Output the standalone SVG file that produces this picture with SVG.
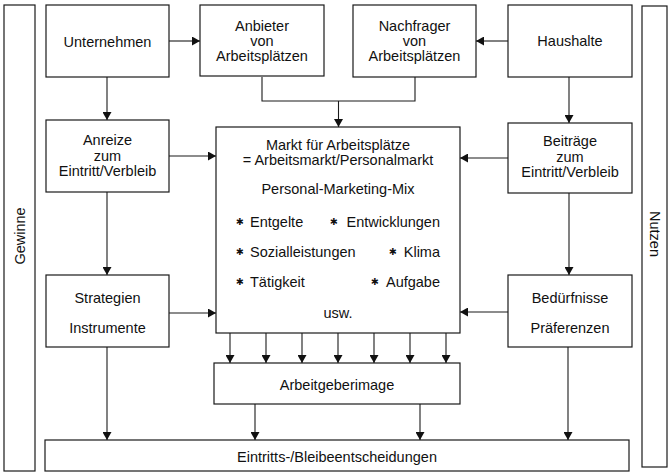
<svg xmlns="http://www.w3.org/2000/svg" width="672" height="472" viewBox="0 0 672 472">
  <style>
    .box { fill: #fff; stroke: #1a1a1a; stroke-width: 1.2; }
    .bar { fill: #fff; stroke: #1a1a1a; stroke-width: 1.2; }
    .line { fill: none; stroke: #1a1a1a; stroke-width: 1.1; }
    .arrow { marker-end: url(#head); }
    text { font-family: "Liberation Sans", Arial, sans-serif; font-size: 14.5px; fill: #111; }
    .c { text-anchor: middle; }
    .e { text-anchor: end; }
    .star { font-family: "DejaVu Sans", sans-serif; font-size: 9.5px; text-anchor: middle; fill: #111; }
  </style>
  <defs>
    <marker id="head" markerWidth="9" markerHeight="9" refX="8" refY="4.5" orient="auto" markerUnits="userSpaceOnUse">
      <path d="M0,0 L8,4.5 L0,9 z" fill="#111"/>
    </marker>
  </defs>

  <rect width="672" height="472" fill="#fff"/>

  <!-- side bars -->
  <g id="gewinne">
    <rect class="bar" x="4" y="5" width="31" height="466"/>
    <text class="c" transform="translate(25 236) rotate(-90)">Gewinne</text>
  </g>
  <g id="nutzen">
    <rect class="bar" x="642" y="6" width="25" height="461"/>
    <text class="c" transform="translate(650 234) rotate(90)">Nutzen</text>
  </g>

  <!-- connectors -->
  <g id="connectors">
    <line class="line arrow" x1="169" y1="41" x2="200" y2="41"/>
    <line class="line arrow" x1="508" y1="41" x2="476" y2="41"/>
    <path class="line" d="M262,77 V101 H415 V77"/>
    <line class="line arrow" x1="338.5" y1="101" x2="338.5" y2="127"/>
    <line class="line arrow" x1="107" y1="77" x2="107" y2="120"/>
    <line class="line arrow" x1="569" y1="77" x2="569" y2="123"/>
    <line class="line arrow" x1="169" y1="156" x2="216" y2="156"/>
    <line class="line arrow" x1="508" y1="158" x2="460" y2="158"/>
    <line class="line arrow" x1="107" y1="192" x2="107" y2="275"/>
    <line class="line arrow" x1="569" y1="193" x2="569" y2="275"/>
    <line class="line arrow" x1="169" y1="313" x2="216" y2="313"/>
    <line class="line arrow" x1="508" y1="312" x2="460" y2="312"/>
    <line class="line arrow" x1="230" y1="333" x2="230" y2="363"/>
    <line class="line arrow" x1="266" y1="333" x2="266" y2="363"/>
    <line class="line arrow" x1="302" y1="333" x2="302" y2="363"/>
    <line class="line arrow" x1="338" y1="333" x2="338" y2="363"/>
    <line class="line arrow" x1="374" y1="333" x2="374" y2="363"/>
    <line class="line arrow" x1="410" y1="333" x2="410" y2="363"/>
    <line class="line arrow" x1="446" y1="333" x2="446" y2="363"/>
    <line class="line arrow" x1="107" y1="347" x2="107" y2="440"/>
    <line class="line arrow" x1="255" y1="404" x2="255" y2="440"/>
    <line class="line arrow" x1="420" y1="404" x2="420" y2="440"/>
    <line class="line arrow" x1="568" y1="347" x2="568" y2="440"/>
  </g>

  <!-- top row -->
  <g id="unternehmen">
    <rect class="box" x="46" y="5" width="123" height="72"/>
    <text class="c" x="107.5" y="47">Unternehmen</text>
  </g>
  <g id="anbieter">
    <rect class="box" x="200" y="5" width="124" height="71"/>
    <text class="c" x="262" y="30.5">Anbieter</text>
    <text class="c" x="262" y="45.5">von</text>
    <text class="c" x="262" y="60.5">Arbeitsplätzen</text>
  </g>
  <g id="nachfrager">
    <rect class="box" x="353" y="5" width="123" height="72"/>
    <text class="c" x="414.5" y="30.5">Nachfrager</text>
    <text class="c" x="414.5" y="45.5">von</text>
    <text class="c" x="414.5" y="60.5">Arbeitsplätzen</text>
  </g>
  <g id="haushalte">
    <rect class="box" x="508" y="5" width="124" height="72"/>
    <text class="c" x="570" y="46">Haushalte</text>
  </g>

  <!-- second row -->
  <g id="anreize">
    <rect class="box" x="46" y="120" width="123" height="72"/>
    <text class="c" x="107.5" y="145">Anreize</text>
    <text class="c" x="107.5" y="160.5">zum</text>
    <text class="c" x="107.5" y="176">Eintritt/Verbleib</text>
  </g>
  <g id="beitraege">
    <rect class="box" x="508" y="123" width="124" height="70"/>
    <text class="c" x="570" y="146">Beiträge</text>
    <text class="c" x="570" y="161.5">zum</text>
    <text class="c" x="570" y="177">Eintritt/Verbleib</text>
  </g>

  <!-- central market -->
  <g id="markt">
    <rect class="box" x="216" y="127" width="244" height="206"/>
    <text class="c" x="338" y="150">Markt für Arbeitsplätze</text>
    <text class="c" x="338" y="165">= Arbeitsmarkt/Personalmarkt</text>
    <text class="c" x="338" y="194">Personal-Marketing-Mix</text>
    <text class="star" x="240" y="225">✱</text>
    <text x="250" y="227">Entgelte</text>
    <text class="star" x="334" y="225">✱</text>
    <text class="e" x="440" y="227">Entwicklungen</text>
    <text class="star" x="240" y="255">✱</text>
    <text x="250" y="257">Sozialleistungen</text>
    <text class="star" x="393" y="255">✱</text>
    <text class="e" x="440" y="257">Klima</text>
    <text class="star" x="240" y="285">✱</text>
    <text x="250" y="287">Tätigkeit</text>
    <text class="star" x="375" y="285">✱</text>
    <text class="e" x="440" y="287">Aufgabe</text>
    <text class="c" x="338" y="318">usw.</text>
  </g>

  <!-- third row -->
  <g id="strategien">
    <rect class="box" x="46" y="275" width="123" height="72"/>
    <text class="c" x="107.5" y="303">Strategien</text>
    <text class="c" x="107.5" y="333">Instrumente</text>
  </g>
  <g id="beduerfnisse">
    <rect class="box" x="508" y="275" width="124" height="72"/>
    <text class="c" x="570" y="303">Bedürfnisse</text>
    <text class="c" x="570" y="333">Präferenzen</text>
  </g>

  <!-- lower boxes -->
  <g id="arbeitgeberimage">
    <rect class="box" x="214" y="363" width="246" height="41"/>
    <text class="c" x="337" y="390">Arbeitgeberimage</text>
  </g>
  <g id="entscheidungen">
    <rect class="box" x="45" y="440" width="584" height="31"/>
    <text class="c" x="337" y="462">Eintritts-/Bleibeentscheidungen</text>
  </g>
</svg>
